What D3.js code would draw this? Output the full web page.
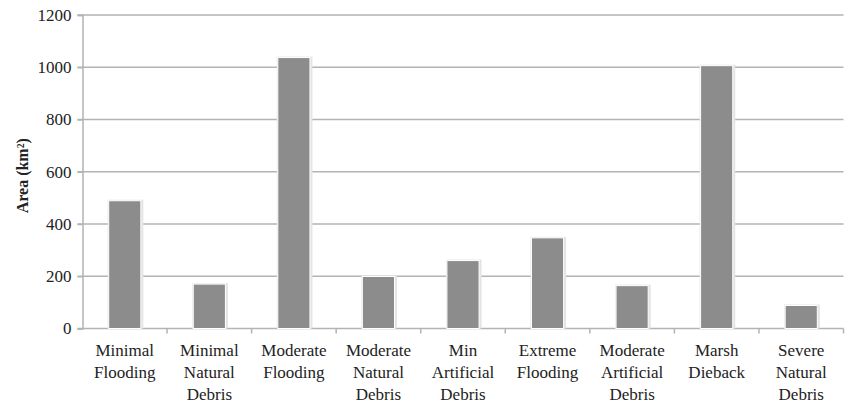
<!DOCTYPE html>
<html>
<head>
<meta charset="utf-8">
<script src="https://cdn.jsdelivr.net/npm/d3@7"></script>
<style>
  body { margin: 0; background: #fff; }
</style>
</head>
<body>
<div id="chart"></div>
<script>
// data
const categories = [
    ["Minimal", "Flooding"],
    ["Minimal", "Natural", "Debris"],
    ["Moderate", "Flooding"],
    ["Moderate", "Natural", "Debris"],
    ["Min", "Artificial", "Debris"],
    ["Extreme", "Flooding"],
    ["Moderate", "Artificial", "Debris"],
    ["Marsh", "Dieback"],
    ["Severe", "Natural", "Debris"]
];
const areas = [489, 170, 1037, 199, 260, 347, 164, 1006, 88];
const yTicks = [0, 200, 400, 600, 800, 1000, 1200];

const serif = "'Liberation Serif', serif";
const width = 848, height = 409;
const margin = {top: 15, right: 4.5, bottom: 80.5, left: 82.5};
const innerW = width - margin.left - margin.right;
const innerH = height - margin.top - margin.bottom;

const svg = d3.select("#chart").append("svg")
    .attr("width", width)
    .attr("height", height)
    .style("font-family", serif);

const g = svg.append("g")
    .attr("transform", `translate(${margin.left},${margin.top})`);

const keys = categories.map((c, i) => i);

const x = d3.scaleBand()
    .domain(keys)
    .range([0, innerW])
    .paddingInner(0.62)
    .paddingOuter(0.31);

const y = d3.scaleLinear()
    .domain([0, 1200])
    .range([innerH, 0]);

const gridColor = "#b3b3b3";

// gridlines
g.selectAll(".grid")
    .data(yTicks.slice(1))
    .enter().append("line")
    .attr("class", "grid")
    .attr("x1", -5)
    .attr("x2", innerW)
    .attr("y1", d => y(d))
    .attr("y2", d => y(d))
    .attr("stroke", gridColor)
    .attr("stroke-width", 1.5);

// y axis
const yAxis = d3.axisLeft(y)
    .tickValues(yTicks)
    .tickFormat(d3.format("d"))
    .tickSize(5)
    .tickPadding(6);

const yg = g.append("g").attr("class", "y-axis").call(yAxis)
    .attr("font-family", null)
    .attr("font-size", 17);
yg.select(".domain").attr("stroke", gridColor).attr("stroke-width", 1.5);
yg.selectAll(".tick line").attr("stroke", gridColor).attr("stroke-width", 1.5);
yg.selectAll(".tick text").attr("fill", "#222").style("font-family", serif);

// x baseline + ticks at band boundaries
g.append("line")
    .attr("x1", -5).attr("x2", innerW)
    .attr("y1", innerH).attr("y2", innerH)
    .attr("stroke", gridColor).attr("stroke-width", 1.5);

const step = x.step();
const boundaries = d3.range(1, categories.length + 1).map(i => i * step);
g.selectAll(".xtick")
    .data(boundaries)
    .enter().append("line")
    .attr("class", "xtick")
    .attr("x1", d => d).attr("x2", d => d)
    .attr("y1", innerH).attr("y2", innerH + 5)
    .attr("stroke", gridColor).attr("stroke-width", 1.5);

// bar shadows
g.selectAll(".shadow")
    .data(areas)
    .enter().append("rect")
    .attr("class", "shadow")
    .attr("x", (d, i) => x(i) - 1)
    .attr("y", d => y(d) - 1)
    .attr("width", x.bandwidth() + 3.5)
    .attr("height", d => innerH - y(d) + 1)
    .attr("fill", "#e4e4e4");

// bars
g.selectAll(".bar")
    .data(areas)
    .enter().append("rect")
    .attr("class", "bar")
    .attr("x", (d, i) => x(i))
    .attr("y", d => y(d))
    .attr("width", x.bandwidth())
    .attr("height", d => innerH - y(d))
    .attr("fill", "#8c8c8c")
    .attr("stroke", "#ffffff")
    .attr("stroke-width", 1);

// category labels
const labels = g.selectAll(".xlabel")
    .data(categories)
    .enter().append("text")
    .attr("class", "xlabel")
    .attr("text-anchor", "middle")
    .attr("font-size", 17)
    .attr("fill", "#222")
    .style("font-family", serif)
    .attr("transform", (d, i) => `translate(${x(i) + x.bandwidth() / 2},${innerH + 27})`);

labels.selectAll("tspan")
    .data(d => d)
    .enter().append("tspan")
    .attr("x", 0)
    .attr("dy", (d, i) => i === 0 ? 0 : 22)
    .text(d => d);

// y axis title
svg.append("text")
    .attr("transform", `translate(28,${margin.top + innerH / 2 + 4}) rotate(-90)`)
    .attr("text-anchor", "middle")
    .attr("font-size", 16)
    .attr("font-weight", "bold")
    .attr("fill", "#222")
    .style("font-family", serif)
    .text("Area (km²)");
</script>
</body>
</html>
